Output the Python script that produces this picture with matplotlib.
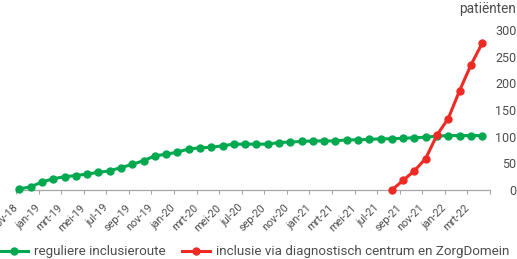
import matplotlib
matplotlib.use("Agg")
import matplotlib.pyplot as plt
import matplotlib.transforms as mtransforms
import numpy as np

months = ["nov-18", "dec-18", "jan-19", "feb-19", "mrt-19", "apr-19", "mei-19", "jun-19",
          "jul-19", "aug-19", "sep-19", "okt-19", "nov-19", "dec-19", "jan-20", "feb-20",
          "mrt-20", "apr-20", "mei-20", "jun-20", "jul-20", "aug-20", "sep-20", "okt-20",
          "nov-20", "dec-20", "jan-21", "feb-21", "mrt-21", "apr-21", "mei-21", "jun-21",
          "jul-21", "aug-21", "sep-21", "okt-21", "nov-21", "dec-21", "jan-22", "feb-22",
          "mrt-22", "apr-22"]
regulier = [2, 6, 15, 21, 25, 27, 30, 33, 36, 42, 48, 55, 64, 67, 71, 77, 79, 80, 83, 86,
            86, 86, 86, 89, 90, 91, 92, 92, 92, 94, 94, 95, 96, 96, 97, 98, 99, 101, 102,
            102, 102, 102]
diag_months = ["aug-21", "sep-21", "okt-21", "nov-21", "dec-21", "jan-22", "feb-22",
               "mrt-22", "apr-22"]
diagnostisch = [0, 18, 36, 59, 103, 134, 186, 234, 275]
y_ticks = [0, 50, 100, 150, 200, 250, 300]

green = "#00a84f"
red = "#ee2a24"
txt = "#4d4d4d"
axc = "#a6a6a6"
font = "Roboto"
plt.rcParams["font.family"] = [font, "DejaVu Sans"]

W, H = 517, 259
fig = plt.figure(figsize=(W / 100, H / 100), dpi=100)
ax = fig.add_axes([16 / W, (H - 190) / H, (490 - 16) / W, 160 / H])

x = np.arange(len(months))
xd = np.array([months.index(m) for m in diag_months])
ax.plot(x, regulier, color=green, lw=2.2, marker="o", ms=5, clip_on=False, zorder=3,
        label="reguliere inclusieroute")
ax.plot(xd, diagnostisch, color=red, lw=2.2, marker="o", ms=5, clip_on=False, zorder=4,
        label="inclusie via diagnostisch centrum en ZorgDomein")

off = 0.3
ax.set_xlim(-off, len(months) - 1 + off)
ax.set_ylim(0, 300)
tick_idx = list(range(0, len(months), 2)) + [len(months)]
ax.set_xticks([i - off for i in tick_idx])
ax.set_xticklabels([months[i] if i < len(months) else "" for i in tick_idx])
shift = mtransforms.ScaledTranslation(5 / 100, 0, fig.dpi_scale_trans)
for lbl in ax.get_xticklabels():
    lbl.set_rotation(45)
    lbl.set_ha("right")
    lbl.set_va("center")
    lbl.set_rotation_mode("anchor")
    lbl.set_transform(lbl.get_transform() + shift)
ax.tick_params(axis="x", length=3, width=0.8, color=axc, labelsize=7.8, labelcolor=txt, pad=8.5)

ax.yaxis.tick_right()
ax.set_yticks(y_ticks)
ax.tick_params(axis="y", length=0, labelsize=9, labelcolor=txt, pad=19)
for lbl in ax.get_yticklabels():
    lbl.set_ha("right")

for s in ["top", "left", "right"]:
    ax.spines[s].set_visible(False)
ax.spines["bottom"].set_color(axc)
ax.spines["bottom"].set_linewidth(0.9)

fig.text(516 / W, 1 - 9 / H, "patiënten", ha="right", va="center", fontsize=9.8, color=txt)

fig.legend(loc="center left", bbox_to_anchor=(0 / W, 1 - 252 / H), ncol=2, frameon=False,
           fontsize=9.6, labelcolor=txt, handlelength=2.1, handletextpad=0.45,
           columnspacing=1.2, borderaxespad=0, borderpad=0)

fig.savefig("out.png", dpi=100)
